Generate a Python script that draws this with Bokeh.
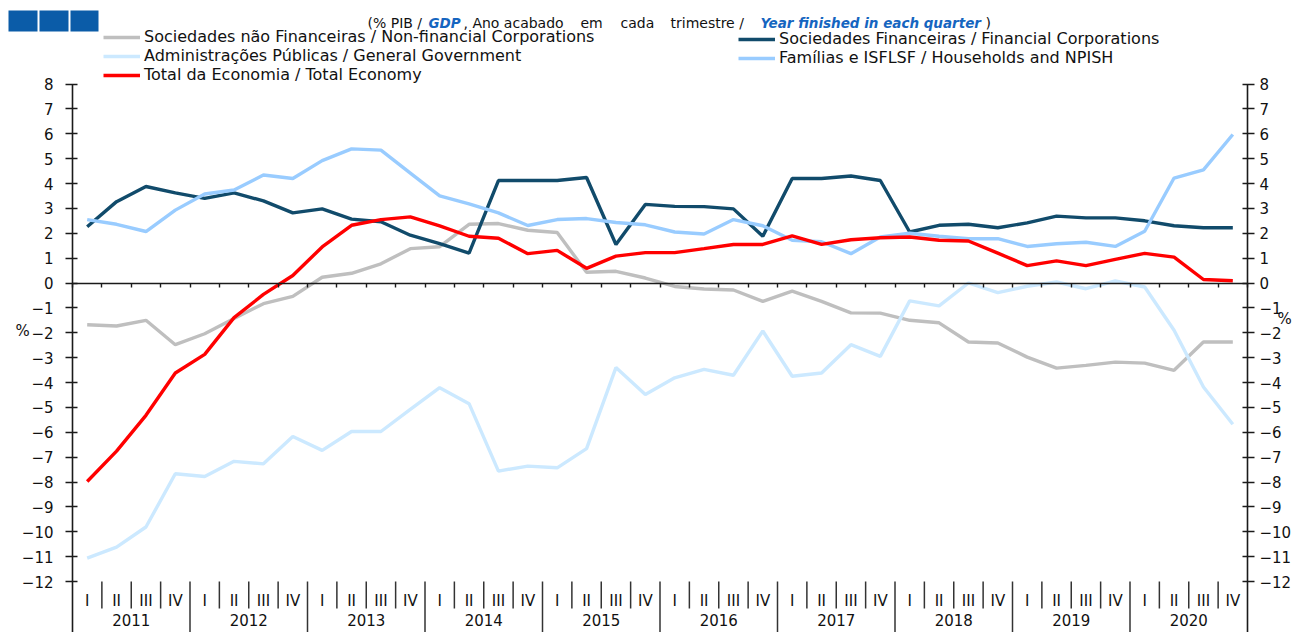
from bokeh.plotting import figure
from bokeh.models import Range1d, LinearAxis, FixedTicker, Legend, LegendItem, Label
from bokeh.embed import file_html
from bokeh.resources import INLINE
from bokeh.core.properties import value

# ---------------- data ----------------
years = ["2011", "2012", "2013", "2014", "2015", "2016", "2017", "2018", "2019", "2020"]
quarter_names = ["I", "II", "III", "IV"]
y_ticks = [-12, -11, -10, -9, -8, -7, -6, -5, -4, -3, -2, -1, 0, 1, 2, 3, 4, 5, 6, 7, 8]

nfc = [-1.68, -1.73, -1.50, -2.48, -2.04, -1.43, -0.83, -0.54, 0.23, 0.39,
       0.77, 1.38, 1.46, 2.36, 2.39, 2.12, 2.03, 0.43, 0.47, 0.20,
       -0.14, -0.24, -0.28, -0.74, -0.33, -0.74, -1.20, -1.21, -1.50, -1.60,
       -2.37, -2.41, -2.98, -3.42, -3.31, -3.18, -3.22, -3.51, -2.37, -2.37]
fc = [2.26, 3.27, 3.88, 3.62, 3.40, 3.62, 3.30, 2.82, 2.98, 2.57,
      2.46, 1.92, 1.58, 1.20, 4.12, 4.12, 4.12, 4.24, 1.55, 3.16,
      3.08, 3.07, 2.98, 1.88, 4.20, 4.20, 4.30, 4.12, 2.05, 2.32,
      2.36, 2.22, 2.42, 2.69, 2.62, 2.62, 2.50, 2.30, 2.22, 2.22]
gg = [-11.06, -10.62, -9.81, -7.67, -7.78, -7.17, -7.27, -6.17, -6.73, -5.97,
      -5.97, -5.08, -4.21, -4.85, -7.56, -7.36, -7.43, -6.66, -3.40, -4.48,
      -3.81, -3.47, -3.71, -1.93, -3.75, -3.62, -2.48, -2.95, -0.72, -0.92,
      0.00, -0.39, -0.13, 0.04, -0.23, 0.08, -0.16, -1.90, -4.18, -5.68]
hh = [2.55, 2.36, 2.07, 2.93, 3.58, 3.74, 4.34, 4.20, 4.92, 5.39,
      5.34, 4.42, 3.50, 3.18, 2.82, 2.31, 2.55, 2.59, 2.43, 2.34,
      2.05, 1.97, 2.55, 2.30, 1.72, 1.66, 1.18, 1.85, 2.00, 1.88,
      1.78, 1.78, 1.47, 1.58, 1.64, 1.47, 2.08, 4.22, 4.55, 5.97]
tot = [-7.98, -6.76, -5.32, -3.62, -2.87, -1.39, -0.46, 0.30, 1.45, 2.32,
       2.55, 2.66, 2.30, 1.88, 1.80, 1.18, 1.31, 0.59, 1.08, 1.22,
       1.22, 1.38, 1.55, 1.55, 1.89, 1.55, 1.74, 1.82, 1.85, 1.72,
       1.69, 1.20, 0.70, 0.89, 0.70, 0.95, 1.19, 1.04, 0.14, 0.09]

label_nfc = "Sociedades não Financeiras / Non-financial Corporations"
label_fc = "Sociedades Financeiras / Financial Corporations"
label_gg = "Administrações Públicas / General Government"
label_hh = "Famílias e ISFLSF / Households and NPISH"
label_tot = "Total da Economia / Total Economy"

# ---------------- geometry / style ----------------
FONT = "DejaVu Sans"
X0, DX = 72.0, 29.375      # page px of x=0, px per quarter
Y0, DY = 282.5, 24.875     # page px of y=0, px per unit
W, H = 1293, 632


def fx(px):
    return (px - X0) / DX


def fy(py):
    return (Y0 - py) / DY


p = figure(width=W, height=H, output_backend="svg", toolbar_location=None,
           x_range=Range1d(fx(0), fx(W)), y_range=Range1d(fy(H), fy(0)),
           x_axis_type=None, y_axis_type=None, min_border=0,
           outline_line_color=None, title=None)
p.background_fill_color = "white"
p.border_fill_color = "white"

n = len(tot)
xs = [i + 0.5 for i in range(n)]
y_bottom = fy(H)

# axes drawn at fixed positions
AX_COL = "#1a1a1a"
for loc, side, standoff in ((0, "left", 12), (n, "right", 5)):
    ax = LinearAxis(fixed_location=loc, bounds=(y_bottom, max(y_ticks)),
                    ticker=FixedTicker(ticks=y_ticks, minor_ticks=[]),
                    axis_line_color=AX_COL, axis_line_width=1.6,
                    major_tick_line_color=AX_COL, major_tick_line_width=1.4,
                    major_tick_in=5, major_tick_out=7,
                    minor_tick_line_color=None,
                    major_label_standoff=standoff,
                    major_label_text_font=FONT, major_label_text_font_size="15px",
                    major_label_text_color="#111111")
    p.add_layout(ax, side)

xa = LinearAxis(fixed_location=0, bounds=(0, n),
                ticker=FixedTicker(ticks=list(range(n + 1)), minor_ticks=[]),
                major_label_overrides={i: "" for i in range(n + 1)},
                axis_line_color=AX_COL, axis_line_width=1.6,
                major_tick_line_color=AX_COL, major_tick_line_width=1.4,
                major_tick_in=0, major_tick_out=4, minor_tick_line_color=None,
                major_label_text_font_size="1px")
p.add_layout(xa, "below")

# category labels below the plot
quarters = [q for _ in years for q in quarter_names]
p.text(x=xs, y=[fy(600)] * n, text=quarters, text_align="center",
       text_baseline="middle", text_font=value(FONT), text_font_size="15px",
       text_color="#111111")
year_x = [4 * k + 2 for k in range(len(years))]
p.text(x=year_x, y=[fy(613)] * len(years), text=years, text_align="center",
       text_baseline="top", text_font=value(FONT), text_font_size="15px",
       text_color="#111111")

q_sep = [i for i in range(1, n) if i % 4 != 0]
p.segment(x0=q_sep, y0=[min(y_ticks)] * len(q_sep), x1=q_sep, y1=[fy(608)] * len(q_sep),
          line_color="#333333", line_width=1.5)
y_sep = [i for i in range(4, n, 4)]
p.segment(x0=y_sep, y0=[min(y_ticks)] * len(y_sep), x1=y_sep, y1=[y_bottom] * len(y_sep),
          line_color="#333333", line_width=1.5)

# series
LW = 3.4
r_nfc = p.line(xs, nfc, line_color="#BFBFBF", line_width=LW)
r_fc = p.line(xs, fc, line_color="#114B6B", line_width=LW)
r_gg = p.line(xs, gg, line_color="#CCE9FF", line_width=LW)
r_hh = p.line(xs, hh, line_color="#99CCFF", line_width=LW)
r_tot = p.line(xs, tot, line_color="#FF0000", line_width=LW)

common = dict(padding=0, margin=0, spacing=-6, glyph_width=37, glyph_height=16,
              label_height=16, label_standoff=4, label_text_font=FONT,
              label_text_font_size="16px", label_text_color="#111111",
              border_line_color=None, background_fill_alpha=0)
leg1 = Legend(items=[LegendItem(label=label_nfc, renderers=[r_nfc]),
                     LegendItem(label=label_gg, renderers=[r_gg]),
                     LegendItem(label=label_tot, renderers=[r_tot])],
              location=(103, 548), **common)
leg2 = Legend(items=[LegendItem(label=label_fc, renderers=[r_fc]),
                     LegendItem(label=label_hh, renderers=[r_hh])],
              location=(738, 565), **common)
p.add_layout(leg1)
p.add_layout(leg2)

# decorative blue squares
p.quad(left=[fx(8), fx(39), fx(70)], right=[fx(37), fx(68), fx(98)],
       top=fy(10), bottom=fy(31), fill_color="#0B5CA8", line_color=None)

# title (mixed styles)
BLUE = "#1565C0"
title_parts = [("(% PIB /", 367, False), ("GDP", 428, True), (", Ano acabado", 463, False),
               ("em", 580, False), ("cada", 620, False), ("trimestre /", 670, False),
               ("Year finished in each quarter", 760, True), (")", 985, False)]
for txt, px, emph in title_parts:
    p.add_layout(Label(x=fx(px), y=fy(22.5), text=txt, text_baseline="middle",
                       text_align="left", text_font=FONT,
                       text_font_size="13.5px" if emph else "14px",
                       text_color=BLUE if emph else "#111111",
                       text_font_style="bold italic" if emph else "normal"))

# "%" unit labels
p.add_layout(Label(x=fx(15), y=fy(330), text="%", text_baseline="middle",
                   text_font=FONT, text_font_size="15px", text_color="#111111"))
p.add_layout(Label(x=fx(1277), y=fy(318), text="%", text_baseline="middle",
                   text_font=FONT, text_font_size="15px", text_color="#111111"))

open("out.html", "w").write(file_html(p, INLINE))
